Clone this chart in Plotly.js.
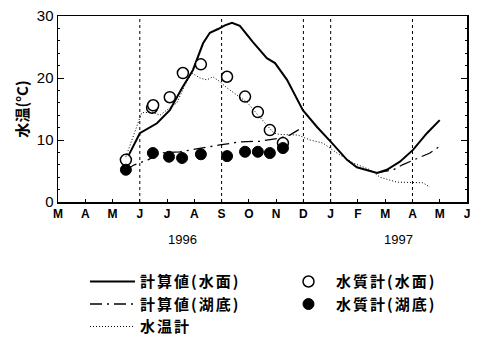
<!DOCTYPE html>
<html>
<head>
<meta charset="utf-8">
<script src="https://cdn.plot.ly/plotly-3.0.1.min.js"></script>
<style>html,body{margin:0;padding:0;background:#fff;}#chart{width:481px;height:349px;}
#chart .legendtext{letter-spacing:2px;}</style>
</head>
<body>
<div id="chart"></div>
<script>
// months since 1 Mar 1996
var monthLabels = ["M","A","M","J","J","A","S","O","N","D","J","F","M","A","M","J"];
var monthTicks = [0,1,2,3,4,5,6,7,8,9,10,11,12,13,14,15];
var seasonLines = [3,6,9,10,13];

var calcSurfX = [2.53,3.0,3.63,4.1,4.55,4.95,5.32,5.57,5.87,6.12,6.38,6.6,6.67,7.15,7.66,7.96,8.4,8.98,9.5,10.05,10.6,10.96,11.7,12.06,12.54,13.02,13.53,14.0];
var calcSurfY = [7.0,11.1,12.7,14.8,18.4,21.3,25.6,27.3,27.9,28.5,28.9,28.6,28.4,25.8,23.2,22.4,19.7,14.8,12.1,9.5,6.8,5.6,4.7,5.2,6.5,8.4,11.1,13.2];

var calcBotX = [2.49,2.8,3.3,3.74,4.47,5.2,5.94,6.67,7.4,8.14,8.5,8.88,null,11.7,12.3,12.63,13.03,13.64,13.97];
var calcBotY = [5.2,6.0,6.8,7.9,8.1,8.7,9.2,9.7,9.8,10.3,10.8,11.8,null,4.7,5.2,6.0,6.8,7.9,8.9];

var gaugeX = [2.49,3.07,3.45,3.74,4.1,4.36,4.66,4.91,5.2,5.46,5.68,5.94,6.2,6.56,6.93,7.28,7.66,7.92,8.14,8.8,9.24,9.72,10.23,10.82,11.44,11.81,12.43,13.02,13.38,13.64];
var gaugeY = [7.3,14.4,14.5,14.0,15.2,16.0,18.9,20.8,20.0,19.7,20.2,19.4,18.4,17.2,16.1,14.3,12.4,11.1,10.9,10.8,10.0,9.5,7.9,6.3,5.2,4.0,3.2,3.2,3.1,2.4];

var obsSurfX = [2.49,3.45,3.49,4.1,4.58,5.24,6.2,6.86,7.33,7.77,8.25];
var obsSurfY = [6.8,15.2,15.6,16.9,20.8,22.2,20.2,17.0,14.5,11.6,9.5];

var obsBotX = [2.49,3.48,4.07,4.55,5.24,6.2,6.86,7.33,7.77,8.25];
var obsBotY = [5.2,7.9,7.3,7.1,7.7,7.4,8.1,8.1,7.9,8.7];

var traces = [
  {x: calcSurfX, y: calcSurfY, name: "計算値(水面)", mode: "lines", line: {color: "#000", width: 2}},
  {x: obsSurfX, y: obsSurfY, name: "水質計(水面)", mode: "markers",
   marker: {symbol: "circle", size: 11, color: "#fff", line: {color: "#000", width: 1.5}}},
  {x: calcBotX, y: calcBotY, name: "計算値(湖底)", mode: "lines", connectgaps: false,
   line: {color: "#000", width: 1.3, dash: "12px,5px,2px,5px"}},
  {x: obsBotX, y: obsBotY, name: "水質計(湖底)", mode: "markers",
   marker: {symbol: "circle", size: 11, color: "#000", line: {color: "#000", width: 1}}},
  {x: gaugeX, y: gaugeY, name: "水温計", mode: "lines", line: {color: "#000", width: 1, dash: "1px,2px"}}
];

var shapes = seasonLines.map(function(m){
  return {type: "line", xref: "x", yref: "y", x0: m, x1: m, y0: 0, y1: 30,
          line: {color: "#000", width: 1, dash: "dot"}};
});

var layout = {
  width: 481, height: 349,
  margin: {l: 58, r: 14, t: 16, b: 147, autoexpand: false},
  paper_bgcolor: "#fff", plot_bgcolor: "#fff",
  font: {family: "Liberation Sans, Arial, sans-serif", color: "#000"},
  showlegend: true,
  xaxis: {
    range: [0, 15], tickvals: monthTicks, ticktext: monthLabels,
    ticks: "inside", ticklen: 3, tickcolor: "#000",
    showline: true, linecolor: "#000", linewidth: 1.5, mirror: true,
    showgrid: false, zeroline: false,
    tickfont: {family: "Liberation Sans, Arial", size: 12, weight: "bold"}
  },
  yaxis: {
    range: [0, 30], tickvals: [0,10,20,30], ticks: "inside", ticklen: 6, tickcolor: "#000",
    minor: {dtick: 2, ticks: "inside", ticklen: 2, tickcolor: "#000", showgrid: false},
    showline: true, linecolor: "#000", linewidth: 1.5, mirror: "ticks",
    showgrid: false, zeroline: false,
    tickfont: {family: "Liberation Sans, Arial", size: 15},
    title: {text: "水温(°C)", font: {family: "Noto Sans CJK JP", size: 15, weight: "bold"}, standoff: 4}
  },
  shapes: shapes,
  annotations: [
    {text: "1996", x: 4.55, y: -0.204, xref: "x", yref: "paper", yanchor: "middle", showarrow: false,
     font: {size: 13, family: "Liberation Sans, Arial"}},
    {text: "1997", x: 12.47, y: -0.204, xref: "x", yref: "paper", yanchor: "middle", showarrow: false,
     font: {size: 13, family: "Liberation Sans, Arial"}}
  ],
  legend: {
    orientation: "h", x: 0.066, xanchor: "left", y: -0.34, yanchor: "top",
    entrywidth: 136, entrywidthmode: "pixels", itemwidth: 45,
    font: {family: "Noto Sans CJK JP", size: 15, weight: "bold"},
    bgcolor: "rgba(0,0,0,0)", traceorder: "normal"
  }
};

Plotly.newPlot("chart", traces, layout, {staticPlot: true, displayModeBar: false});
</script>
</body>
</html>
